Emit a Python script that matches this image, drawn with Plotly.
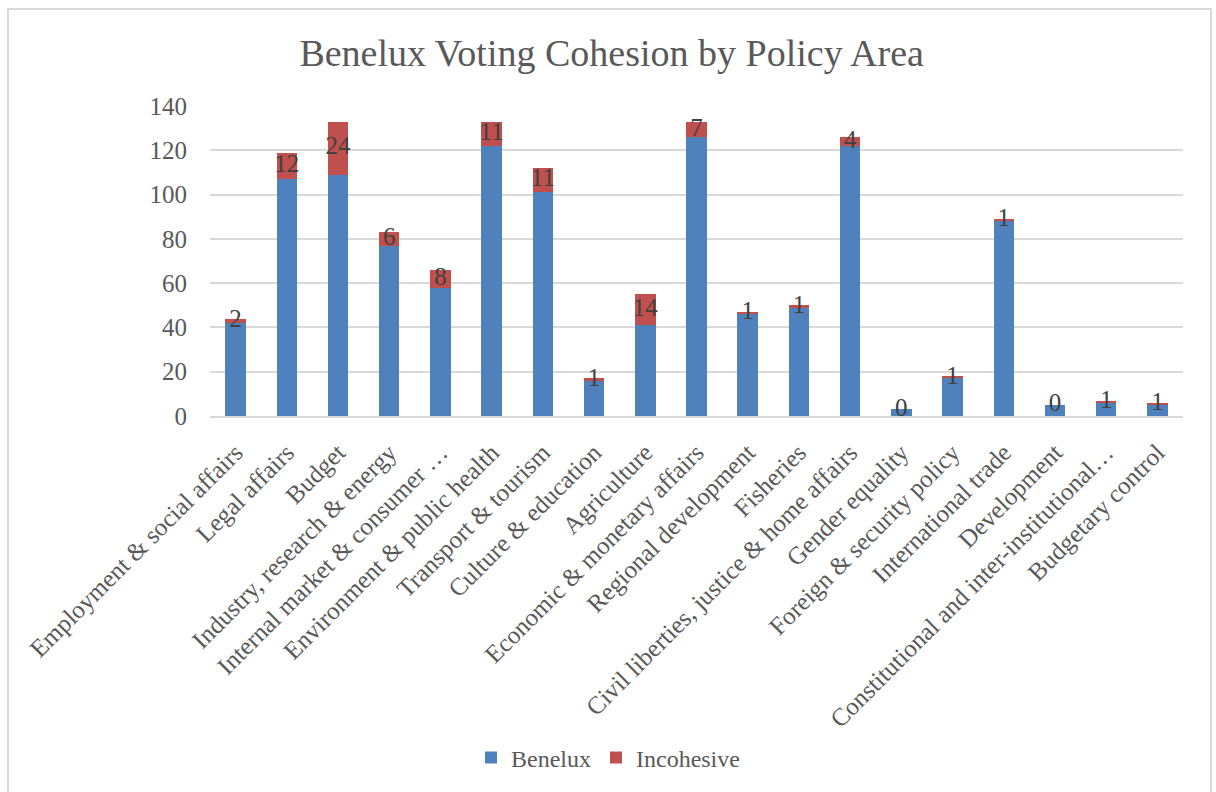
import plotly.graph_objects as go

categories = [
    "Employment & social affairs",
    "Legal affairs",
    "Budget",
    "Industry, research & energy",
    "Internal market & consumer …",
    "Environment & public health",
    "Transport & tourism",
    "Culture & education",
    "Agriculture",
    "Economic & monetary affairs",
    "Regional development",
    "Fisheries",
    "Civil liberties, justice & home affairs",
    "Gender equality",
    "Foreign & security policy",
    "International trade",
    "Development",
    "Constitutional and inter-institutional…",
    "Budgetary control",
]
benelux = [42, 107, 109, 77, 58, 122, 101, 16, 41, 126, 46, 49, 122, 3, 17, 88, 5, 6, 5]
incohesive = [2, 12, 24, 6, 8, 11, 11, 1, 14, 7, 1, 1, 4, 0, 1, 1, 0, 1, 1]
y_ticks = [0, 20, 40, 60, 80, 100, 120, 140]

W, H = 1216, 792
PL, PR, PT, PB = 210, 1183, 106, 416  # plot area in pixels

def px_x(p):
    return (p - PL) / (PR - PL)

def px_y(p):
    return (PB - p) / (PB - PT)

FONT = "Liberation Serif"
BLUE = "#4F81BD"
RED = "#C0504D"
GRID = "#D9D9D9"
TXT = "#595959"

label_y = [b + i / 2 for b, i in zip(benelux, incohesive)]

fig = go.Figure()
fig.add_trace(go.Bar(
    name="Benelux", x=categories, y=benelux,
    marker=dict(color=BLUE, line=dict(width=0)),
    hoverinfo="skip",
))
fig.add_trace(go.Bar(
    name="Incohesive", x=categories, y=incohesive,
    marker=dict(color=RED, line=dict(width=0)),
    hoverinfo="skip",
))
fig.add_trace(go.Scatter(
    x=categories, y=label_y, mode="text",
    text=[str(v) for v in incohesive],
    textposition="middle center",
    textfont=dict(family=FONT, size=25, color="#404040"),
    showlegend=False, hoverinfo="skip",
))

fig.update_layout(
    width=W, height=H,
    barmode="stack",
    bargap=0.6,
    paper_bgcolor="white",
    plot_bgcolor="white",
    margin=dict(l=PL, r=W - PR, t=PT, b=H - PB, autoexpand=False),
    font=dict(family=FONT, color=TXT, size=24),
    title=dict(
        text="Benelux Voting Cohesion by Policy Area",
        x=0.503, xanchor="center", xref="container",
        y=1 - 53 / H, yanchor="middle", yref="container",
        font=dict(family=FONT, size=38, color=TXT),
    ),
    showlegend=True,
    legend=dict(
        orientation="h",
        x=0.5, xanchor="center", xref="container",
        y=px_y(758), yanchor="middle",
        font=dict(family=FONT, size=24, color=TXT),
        traceorder="normal",
        itemclick=False,
    ),
    shapes=[dict(
        type="rect", xref="paper", yref="paper",
        x0=px_x(8), x1=px_x(1211), y0=px_y(820), y1=px_y(9),
        line=dict(color=GRID, width=2), fillcolor="rgba(0,0,0,0)",
        layer="below",
    )],
)

fig.update_xaxes(
    type="category",
    range=[-0.5, len(categories) - 0.5],
    tickangle=-45,
    showgrid=False,
    showline=True, linecolor=GRID, linewidth=2,
    ticks="",
    tickfont=dict(family=FONT, size=25, color=TXT),
    ticklabelstandoff=10,
)
fig.update_yaxes(
    range=[0, 140],
    tickvals=y_ticks,
    showgrid=True, gridcolor=GRID, gridwidth=2,
    zeroline=False,
    showline=False,
    ticks="",
    tickfont=dict(family=FONT, size=25, color=TXT),
    ticklabelstandoff=22,
)

fig.write_html("out.html")
